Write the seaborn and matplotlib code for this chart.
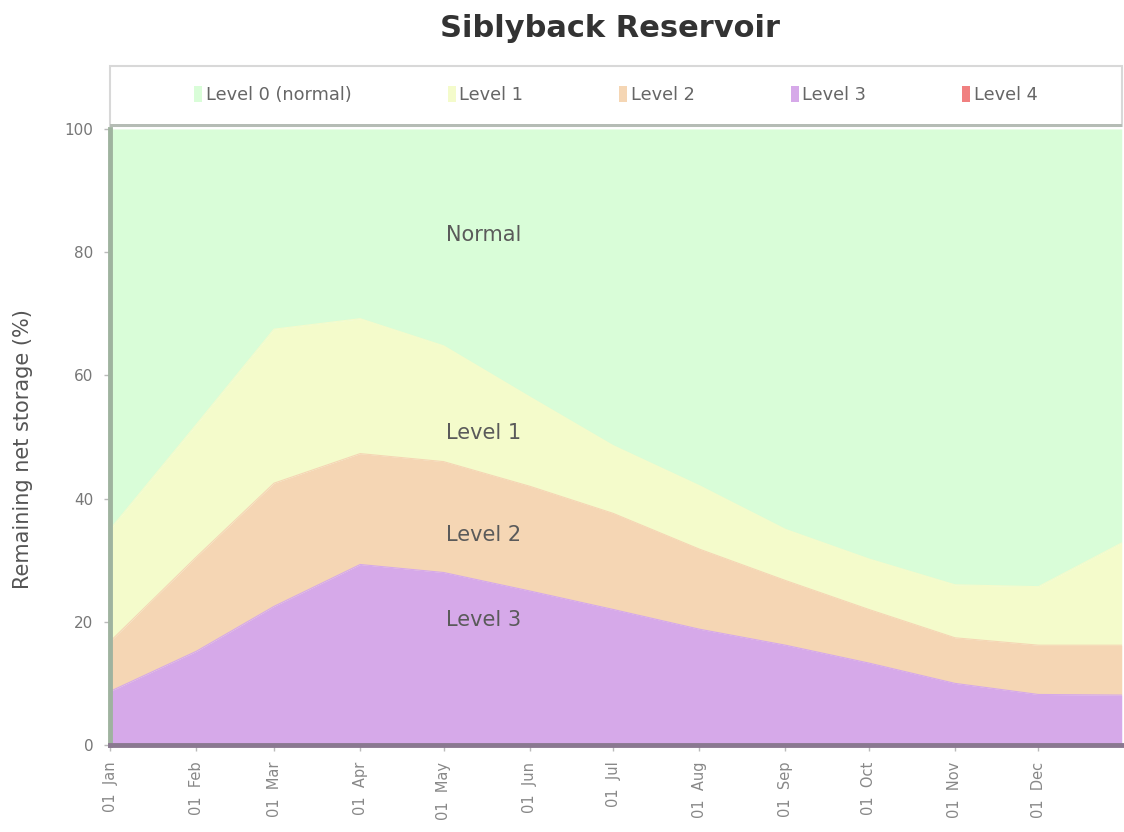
import numpy as np
import pandas as pd
import matplotlib
matplotlib.use("Agg")
import matplotlib.pyplot as plt
import matplotlib.dates as mdates
from matplotlib.patches import Patch, Rectangle
import seaborn as sns

# ---- data ----
dates = ["2023-01-01", "2023-02-01", "2023-03-01", "2023-04-01", "2023-05-01",
         "2023-06-01", "2023-07-01", "2023-08-01", "2023-09-01", "2023-10-01",
         "2023-11-01", "2023-12-01", "2023-12-31"]
level1_line = [35.0, 52.0, 67.5, 69.2, 64.8, 56.5, 48.6, 42.1, 35.0, 30.2, 26.0, 25.7, 32.8]
level2_line = [16.8, 30.5, 42.5, 47.3, 46.0, 42.0, 37.6, 31.8, 26.7, 22.0, 17.4, 16.2, 16.2]
level3_line = [8.7, 15.2, 22.5, 29.3, 28.0, 25.0, 22.0, 18.8, 16.2, 13.3, 10.0, 8.2, 8.1]
level4_line = [0, 0, 0, 0, 0, 0, 0, 0, 0, 0, 0, 0, 0]
tick_dates = ["2023-01-01", "2023-02-01", "2023-03-01", "2023-04-01", "2023-05-01",
              "2023-06-01", "2023-07-01", "2023-08-01", "2023-09-01", "2023-10-01",
              "2023-11-01", "2023-12-01"]
legend_labels = ["Level 0 (normal)", "Level 1", "Level 2", "Level 3", "Level 4"]
zone_labels = ["Normal", "Level 1", "Level 2", "Level 3"]
zone_label_y = [82.8, 50.6, 34.1, 20.3]
y_ticks = [0, 20, 40, 60, 80, 100]

# ---- style ----
sns.set_theme(style="white")
plt.rcParams['font.family'] = ['DejaVu Sans']

colors = ["#d9fdd8", "#f4fbcb", "#f5d6b4", "#d6a9e9", "#f08080"]

df = pd.DataFrame({
    "date": pd.to_datetime(dates),
    "l1": level1_line, "l2": level2_line, "l3": level3_line, "l4": level4_line,
})

fig = plt.figure(figsize=(11.24, 8.32), dpi=100)
ax = fig.add_axes([0.0979, 0.1046, 0.9001, 0.7404])

x = df["date"]
ax.fill_between(x, df["l1"], 100, color=colors[0], lw=0)
ax.fill_between(x, df["l2"], df["l1"], color=colors[1], lw=0)
ax.fill_between(x, df["l3"], df["l2"], color=colors[2], lw=0)
ax.fill_between(x, df["l4"], df["l3"], color=colors[3], lw=0)
ax.fill_between(x, 0, df["l4"], color=colors[4], lw=0)
for col, c in zip(["l1", "l2", "l3"], colors[1:4]):
    sns.lineplot(data=df, x="date", y=col, ax=ax, color=c, lw=0.8, legend=False)

ax.set_xlim(pd.Timestamp("2023-01-01"), pd.Timestamp("2023-12-31"))
ax.set_ylim(0, 100)
ax.set_yticks(y_ticks)
ax.set_yticklabels([str(v) for v in y_ticks], fontsize=11, color="#777777")
ax.set_xticks(pd.to_datetime(tick_dates))
ax.xaxis.set_major_formatter(mdates.DateFormatter("%d  %b"))
plt.setp(ax.get_xticklabels(), rotation=90, fontsize=10.5, color="#888888")
ax.tick_params(axis="both", which="major", length=4, width=1, color="#bbbbbb",
               direction="out", bottom=True, left=True, pad=8)
ax.set_xlabel("")
ax.set_ylabel("Remaining net storage (%)", fontsize=15, color="#555555")
ax.yaxis.set_label_coords(-0.076, 0.48)

for s in ["top", "right"]:
    ax.spines[s].set_visible(False)
ax.spines["left"].set_color("#9fb39f")
ax.spines["left"].set_linewidth(3.5)
ax.spines["bottom"].set_color("#8a7890")
ax.spines["bottom"].set_linewidth(3.5)

label_x = pd.Timestamp("2023-05-02")
for t, yv in zip(zone_labels, zone_label_y):
    ax.text(label_x, yv, t, fontsize=15, color="#5a5a5a", ha="left", va="center")

# legend box spanning the plot width
box = Rectangle((0.0979, 0.849), 0.9001, 0.072, transform=fig.transFigure,
                facecolor="white", edgecolor="#d8d8d8", lw=1.5, zorder=1)
fig.add_artist(box)
shadow = Rectangle((0.0979, 0.847), 0.9001, 0.004, transform=fig.transFigure,
                   facecolor="#b5bcb5", edgecolor="none", zorder=1)
fig.add_artist(shadow)

handles = [Patch(facecolor=c, edgecolor="none") for c in colors]
leg = fig.legend(handles, legend_labels, loc="center",
                 bbox_to_anchor=(0.548, 0.886), ncol=5, fontsize=12.8,
                 frameon=False, handlelength=0.45, handleheight=1.0,
                 handletextpad=0.2, columnspacing=5.4)
for t in leg.get_texts():
    t.set_color("#666666")

fig.text(0.543, 0.966, "Siblyback Reservoir", fontsize=22, fontweight="bold",
         color="#333333", ha="center", va="center")

fig.savefig("out.png", dpi=100)
